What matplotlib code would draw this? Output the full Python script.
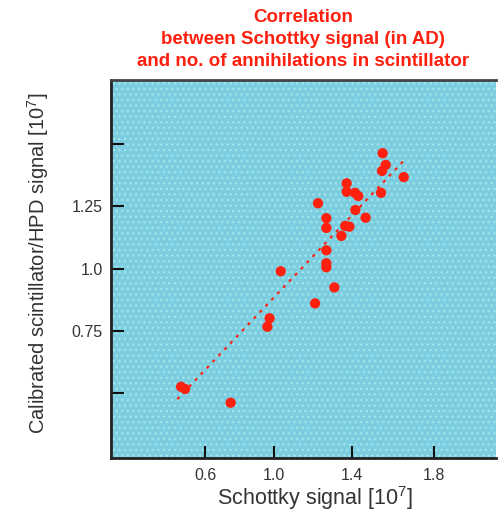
import numpy as np
import matplotlib
matplotlib.use("Agg")
import matplotlib.pyplot as plt
from matplotlib.patches import Rectangle

plt.rcParams['font.family'] = ['Liberation Sans', 'DejaVu Sans']
plt.rcParams['mathtext.fontset'] = 'custom'
plt.rcParams['mathtext.rm'] = 'Liberation Sans'
plt.rcParams['mathtext.it'] = 'Liberation Sans'
plt.rcParams['hatch.linewidth'] = 1.0

# ---- data ----
schottky = [1.548, 1.563, 1.545, 1.651, 1.371, 1.371, 1.413, 1.429, 1.540,
            1.224, 1.415, 1.465, 1.267, 1.267, 1.364, 1.385, 1.344, 1.267,
            1.267, 1.267, 1.033, 1.308, 1.209, 0.973, 0.960, 0.462, 0.485,
            0.748]
scint = [1.463, 1.416, 1.392, 1.367, 1.342, 1.308, 1.304, 1.291, 1.304,
         1.262, 1.235, 1.204, 1.202, 1.163, 1.171, 1.168, 1.131, 1.073,
         1.021, 1.005, 0.989, 0.924, 0.860, 0.800, 0.766, 0.525, 0.516,
         0.461]
fit_x = [0.440, 1.665]
fit_y = [0.475, 1.445]

x_ticks = [0.6, 1.0, 1.4, 1.8]
x_ticklabels = ["0.6", "1.0", "1.4", "1.8"]
y_ticks = [0.5, 0.75, 1.0, 1.25, 1.5]
y_ticklabels = ["", "0.75", "1.0", "1.25", ""]

title_lines = ["Correlation",
               "between Schottky signal (in AD)",
               "and no. of annihilations in scintillator"]

# the original x axis is drawn with unevenly spaced ticks: piecewise-linear scale
knot_val = np.array([0.0, 0.6, 1.0, 1.4, 1.8, 2.2])
knot_pos = np.array([101.0, 205.0, 274.3, 352.3, 434.3, 516.3])

def fwd(v):
    return np.interp(v, knot_val, knot_pos)

def inv(p):
    return np.interp(p, knot_pos, knot_val)

red = '#ff2010'
bg = '#7dcde0'

fig = plt.figure(figsize=(4.98, 5.12), dpi=100)
ax = fig.add_axes([111/498, 54/512, 385/498, 378/512])
ax.set_xscale('function', functions=(fwd, inv))
ax.set_xlim(inv(111), inv(496))
ax.set_ylim(0.239, 1.757)

ax.set_facecolor(bg)
ax.add_patch(Rectangle((0, 0), 1, 1, transform=ax.transAxes, facecolor='none',
                       edgecolor='#9fe6ec', hatch='...', linewidth=0, zorder=0.5))

ax.plot(fit_x, fit_y, color=red, lw=1.5, dashes=(1.5, 2.6), zorder=2)
ax.scatter(schottky, scint, s=55, color=red, edgecolors='none', zorder=3)

ax.set_xticks(x_ticks)
ax.set_xticklabels(x_ticklabels)
ax.set_yticks(y_ticks)
ax.set_yticklabels(y_ticklabels)
ax.minorticks_off()
ax.tick_params(direction='in', length=9, width=1.5, color='#111111',
               labelsize=11.5, labelcolor='#333333')
ax.tick_params(axis='x', pad=7)
ax.tick_params(axis='y', pad=6)

for s in ['left', 'bottom']:
    ax.spines[s].set_linewidth(2)
    ax.spines[s].set_color('#222222')
ax.spines['top'].set_linewidth(2)
ax.spines['top'].set_color('#444444')
ax.spines['right'].set_visible(False)

ax.set_xlabel('Schottky signal [10$^7$]', fontsize=15.5, color='#333333')
ax.set_ylabel('Calibrated scintillator/HPD signal [10$^7$]', fontsize=14.5, color='#333333')
ax.xaxis.set_label_coords(0.53, -0.07)
ax.yaxis.set_label_coords(-0.155, 0.515)

for i, t in enumerate(title_lines):
    fig.text(303/498, 1 - (17.5 + 22*i)/512, t, ha='center', va='center',
             fontsize=13.5, fontweight='bold', color=red)

fig.savefig('out.png', dpi=100)
